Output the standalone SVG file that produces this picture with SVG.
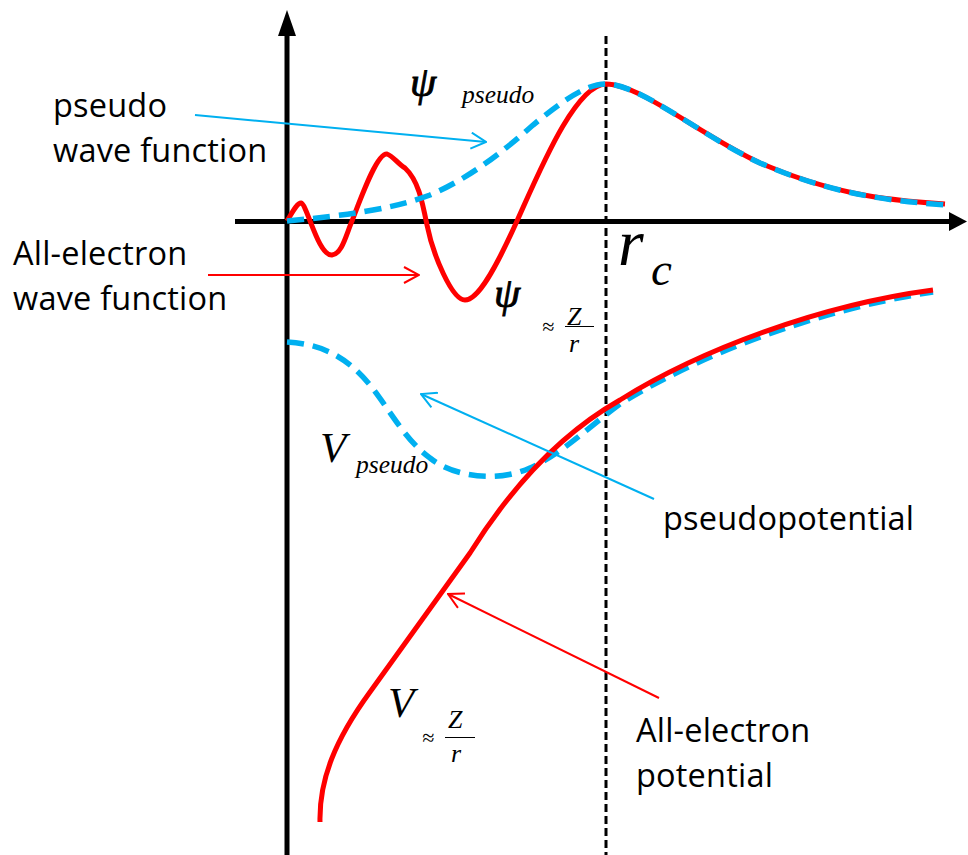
<svg xmlns="http://www.w3.org/2000/svg" width="968" height="855" viewBox="0 0 968 855">
<defs>
<style>
.lbl{font-family:"Open Sans","Liberation Sans",sans-serif;font-size:32.5px;letter-spacing:0.2px;fill:#000}
.math{font-family:"Liberation Serif","Times New Roman",serif;font-style:italic;fill:#000}
.psi{stroke:#000;stroke-width:0.9}
.red{fill:none;stroke:#FF0000;stroke-width:5;stroke-linecap:butt;stroke-linejoin:round}
.blue{fill:none;stroke:#00B0F0;stroke-width:5.5;stroke-dasharray:17 9}
.ptr-b{fill:none;stroke:#00B0F0;stroke-width:2}
.ptr-r{fill:none;stroke:#FF0000;stroke-width:2}
</style>
<marker id="ab" viewBox="0 0 17 18" refX="16" refY="9" markerWidth="17" markerHeight="18" markerUnits="userSpaceOnUse" orient="auto">
<path d="M1,1 L16,9 L1,17" fill="none" stroke="#00B0F0" stroke-width="2"/>
</marker>
<marker id="ar" viewBox="0 0 17 18" refX="16" refY="9" markerWidth="17" markerHeight="18" markerUnits="userSpaceOnUse" orient="auto">
<path d="M1,1 L16,9 L1,17" fill="none" stroke="#FF0000" stroke-width="2"/>
</marker>
</defs>
<rect width="968" height="855" fill="#fff"/>

<g id="axes">
<line x1="287" y1="855" x2="287" y2="30" stroke="#000" stroke-width="5"/>
<polygon points="287,10 278,36 296,36" fill="#000"/>
<line x1="235" y1="221.5" x2="952" y2="221.5" stroke="#000" stroke-width="5"/>
<polygon points="967,221.5 949,212 949,231" fill="#000"/>
<line x1="606" y1="36" x2="606" y2="855" stroke="#000" stroke-width="3" stroke-dasharray="8 4"/>
</g>

<g id="curves">
<path id="psi-ae" class="red" d="M287,221 C292,213 297,203 301,203 C307,204 318,256 332,255 C342,254 346,235 352,221 C362,195 377,153 387,154 C393,156 398,164 405,168 C418,180 422,200 427,225 C433,255 452,300 465,300 C478,300 495,270 517,221 C540,170 575,85 606,84 C640,84 700,135 760,163 C830,193 880,200 945,204"/>
<path id="psi-ps" class="blue" d="M287,221 C340,216 390,210 430,195 C470,178 505,150 533,125 C560,103 585,84 606,84 C640,84 700,135 760,163 C830,193 880,200 945,205"/>
<path id="v-ps" class="blue" d="M287,342 C320,344 345,355 370,385 C390,410 405,440 430,458 C455,478 500,482 530,468 C560,455 585,430 620,404 C700,354 820,309 933,292"/>
<path id="v-ae" class="red" d="M320,822 C319,780 335,740 370,692 C400,650 440,595 470,553 C505,497 555,437 620,400 C700,350 820,305 933,290"/>
</g>

<g id="connectors">
<line class="ptr-b" x1="195" y1="115" x2="486" y2="142" marker-end="url(#ab)"/>
<line class="ptr-r" x1="208" y1="275" x2="419" y2="275" marker-end="url(#ar)"/>
<line class="ptr-b" x1="654" y1="499" x2="421" y2="394" marker-end="url(#ab)"/>
<line class="ptr-r" x1="659" y1="698" x2="448" y2="594" marker-end="url(#ar)"/>
</g>

<g id="label-pseudo-wave">
<text class="lbl" x="53" y="117">pseudo</text>
<text class="lbl" x="53" y="162">wave function</text>
</g>
<g id="label-ae-wave">
<text class="lbl" x="13" y="265">All-electron</text>
<text class="lbl" x="13" y="310">wave function</text>
</g>
<g id="label-pseudopotential">
<text class="lbl" x="663" y="530">pseudopotential</text>
</g>
<g id="label-ae-potential">
<text class="lbl" x="636" y="742">All-electron</text>
<text class="lbl" x="636" y="787">potential</text>
</g>

<g id="math-psi-pseudo">
<text class="math psi" x="410" y="96" font-size="42">ψ</text>
<text class="math" x="462" y="103" font-size="25.5">pseudo</text>
</g>
<g id="math-psi-z">
<text class="math psi" x="494" y="307" font-size="42">ψ</text>
<text class="math" x="542" y="334" font-size="22" font-style="normal">≈</text>
<text class="math" x="567" y="325" font-size="26">Z</text>
<line x1="565" y1="326.5" x2="594" y2="326.5" stroke="#000" stroke-width="1"/>
<text class="math" x="569" y="352" font-size="26">r</text>
</g>
<g id="math-rc">
<text class="math" x="618" y="265" font-size="66">r</text>
<text class="math" x="651" y="285" font-size="47">c</text>
</g>
<g id="math-v-pseudo">
<text class="math" x="320" y="462" font-size="43">V</text>
<text class="math" x="356" y="473" font-size="25.5">pseudo</text>
</g>
<g id="math-v-z">
<text class="math" x="388" y="717" font-size="43">V</text>
<text class="math" x="422" y="745" font-size="22" font-style="normal">≈</text>
<text class="math" x="448" y="728" font-size="26">Z</text>
<line x1="445" y1="737.5" x2="475" y2="737.5" stroke="#000" stroke-width="1"/>
<text class="math" x="451" y="762" font-size="26">r</text>
</g>
</svg>
